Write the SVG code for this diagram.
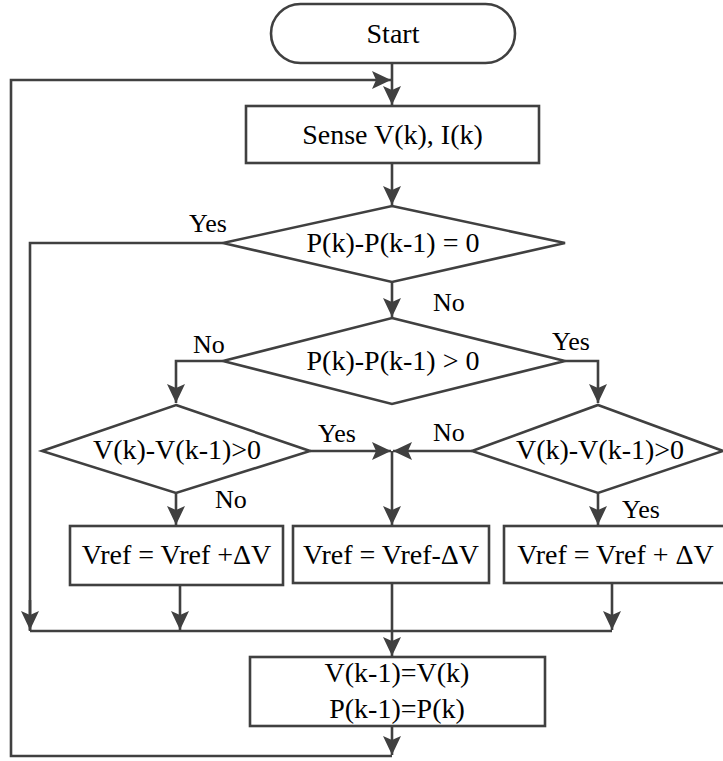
<svg xmlns="http://www.w3.org/2000/svg" width="723" height="761" viewBox="0 0 723 761">
<style>
.s{fill:#fff;stroke:#404040;stroke-width:2.6}
.c{fill:none;stroke:#404040;stroke-width:2.6}
text{font-family:'Liberation Serif','Times New Roman','DejaVu Serif',serif;fill:#000}
.t{font-size:28px;text-anchor:middle}
.l{font-size:26px}
</style>
<defs>
<marker id="a" markerUnits="userSpaceOnUse" markerWidth="20" markerHeight="18" refX="19" refY="9" orient="auto">
<path d="M0,0 L19,9 L0,18 L4,9 Z" fill="#404040"/>
</marker>
</defs>
<rect width="723" height="761" fill="#fff"/>
<g id="connectors">
<path class="c" d="M392,63 V105" marker-end="url(#a)"/>
<path class="c" d="M392,726 V755" marker-end="url(#a)"/>
<path class="c" d="M392,756 H11 V80 H391" marker-end="url(#a)"/>
<path class="c" d="M392,163 V205" marker-end="url(#a)"/>
<path class="c" d="M223,243 H30 V631"/>
<path class="c" d="M392,282 V317" marker-end="url(#a)"/>
<path class="c" d="M223,361 H176 V403" marker-end="url(#a)"/>
<path class="c" d="M565,361 H598 V403" marker-end="url(#a)"/>
<path class="c" d="M310,451 H391" marker-end="url(#a)"/>
<path class="c" d="M472,451 H393" marker-end="url(#a)"/>
<path class="c" d="M392,451 V525" marker-end="url(#a)"/>
<path class="c" d="M176,493 V525" marker-end="url(#a)"/>
<path class="c" d="M598,493 V525" marker-end="url(#a)"/>
<path class="c" d="M30,600 V630" marker-end="url(#a)"/>
<path class="c" d="M180,585 V630" marker-end="url(#a)"/>
<path class="c" d="M612,584 V630" marker-end="url(#a)"/>
<path class="c" d="M30,631 H612"/>
<path class="c" d="M392,584 V656" marker-end="url(#a)"/>
</g>
<g id="start">
<rect class="s" x="271" y="4" width="244" height="59" rx="29.5"/>
<text class="t" x="393" y="43" font-family="Liberation Serif, serif">Start</text>
</g>
<g id="sense">
<rect class="s" x="246" y="106" width="293" height="57"/>
<text class="t" x="392.5" y="144">Sense V(k), I(k)</text>
</g>
<g id="dec1">
<polygon class="s" points="392,206 565,243 392,282 223,243"/>
<text class="t" x="393" y="252">P(k)-P(k-1) = 0</text>
</g>
<g id="dec2">
<polygon class="s" points="392,318 565,361 392,404 223,361"/>
<text class="t" x="393" y="370">P(k)-P(k-1) &gt; 0</text>
</g>
<g id="dec3">
<polygon class="s" points="176,405 310,451 176,493 42,451"/>
<text class="t" x="177" y="459">V(k)-V(k-1)&gt;0</text>
</g>
<g id="dec4">
<polygon class="s" points="598,405 723,451 598,493 472,451"/>
<text class="t" x="600" y="459">V(k)-V(k-1)&gt;0</text>
</g>
<g id="box-left">
<rect class="s" x="70" y="526" width="213" height="59"/>
<text class="t" x="176.5" y="564">Vref = Vref +ΔV</text>
</g>
<g id="box-mid">
<rect class="s" x="293" y="526" width="196" height="57"/>
<text class="t" x="391" y="564">Vref = Vref-ΔV</text>
</g>
<g id="box-right">
<rect class="s" x="504" y="526" width="230" height="57"/>
<text class="t" x="615.5" y="564">Vref = Vref + ΔV</text>
</g>
<g id="update">
<rect class="s" x="250" y="657" width="295" height="69"/>
<text class="t" x="397" y="682">V(k-1)=V(k)</text>
<text class="t" x="397" y="718">P(k-1)=P(k)</text>
</g>
<g id="labels">
<text class="l" x="189" y="232">Yes</text>
<text class="l" x="433" y="311">No</text>
<text class="l" x="193" y="353">No</text>
<text class="l" x="552" y="350">Yes</text>
<text class="l" x="318" y="442">Yes</text>
<text class="l" x="433" y="441">No</text>
<text class="l" x="215" y="508">No</text>
<text class="l" x="622" y="518">Yes</text>
</g>
</svg>
